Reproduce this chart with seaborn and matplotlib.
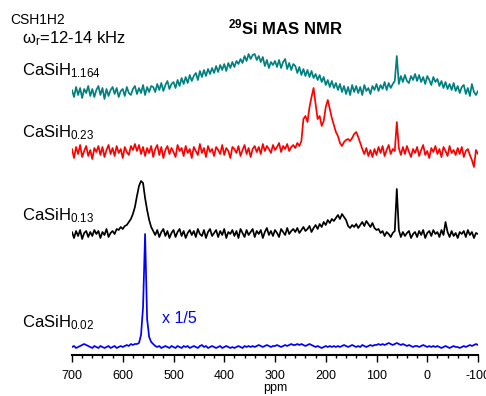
import numpy as np
import pandas as pd
import matplotlib
matplotlib.use("Agg")
import matplotlib.pyplot as plt
from matplotlib.ticker import MultipleLocator
import seaborn as sns

# Chemical shift grid (ppm), 700 down to -100 in 4 ppm steps
ppm = np.arange(700, -101, -4)

# Intensities (arbitrary units) for each sample, one row = 40 ppm
casih_1164 = [
    2, -5, 5, -3, 4, -6, 3, -1, 6, -4,
    3, -5, 2, 6, -3, 4, -7, 3, -4, 2,
    5, -2, 4, -5, 1, 3, -4, 5, -1, -3,
    3, 6, -2, 4, -1, 7, -3, 5, 0, 6,
    5, 0, 8, 2, 9, 1, 7, 11, 3, 8,
    10, 4, 12, 6, 14, 8, 15, 9, 17, 11,
    16, 19, 12, 21, 15, 22, 16, 23, 18, 24,
    19, 26, 20, 27, 22, 28, 21, 29, 24, 30,
    25, 31, 28, 33, 29, 36, 31, 38, 33, 37,
    38, 32, 36, 30, 35, 26, 32, 24, 30, 27,
    31, 25, 32, 24, 30, 33, 23, 29, 22, 28,
    26, 19, 25, 17, 23, 16, 22, 15, 21, 14,
    18, 12, 17, 10, 15, 7, 12, 5, 11, 4,
    9, 2, 8, 0, 6, -2, 5, -3, 7, 0,
    6, -1, 5, -3, 7, 1, 4, -2, 6, 2,
    8, 1, 7, 3, 10, 2, 9, 4, 8, 11,
    36, 8, 16, 10, 17, 11, 9, 16, 12, 18,
    11, 17, 10, 15, 8, 16, 12, 7, 15, 10,
    13, 6, 11, 4, 10, 3, 8, 2, 9, 1,
    6, -1, 5, 7, -2, 4, -4, 8, 0, -3,
    1,
]

casih_023 = [
    3, -6, 5, -2, 7, -5, 1, 6, -4, 2,
    -7, 4, 0, 6, -3, 5, -5, 2, 7, -2,
    4, -4, 6, -1, 3, -6, 5, 0, -3, 6,
    2, 8, 1, 7, -2, 5, -4, 4, -1, 6,
    -5, 3, 7, -3, 5, -6, 2, 6, -2, 4,
    0, -5, 7, 1, 4, -4, 6, -1, 3, -6,
    5, 1, -3, 8, -1, 4, -5, 6, 0, 3,
    -4, 5, 2, -2, 7, -3, 4, 1, -6, 5,
    3, -1, 6, -4, 2, 7, -2, 4, -5, 3,
    6, 0, 5, -2, 8, 1, 6, 3, -1, 7,
    2, 5, 9, 0, 6, 3, 8, 1, 5, 7,
    4, 9, 6, 11, 33, 36, 30, 45, 55, 64,
    48, 33, 36, 26, 31, 45, 52, 43, 34, 27,
    20, 16, 9, 6, 10, 12, 13, 11, 14, 18,
    20, 15, 9, 3, -2, 4, -4, 2, -5, 3,
    -3, 5, -1, 6, -4, 2, 7, -2, 3, 1,
    30, 4, -3, 5, -2, 6, 0, -5, 3, -1,
    5, -4, 2, 7, -3, 1, -6, 4, 0, 6,
    -2, 3, -5, 5, 1, -4, 6, -1, 2, -3,
    4, -2, 5, -5, 1, 3, -3, -8, -15, 2,
    -2,
]

casih_013 = [
    2, -4, 3, -2, 4, -5, 1, 3, -3, 2,
    -2, 4, 0, 3, -4, 2, -1, 5, -3, 1,
    3, 0, 5, 4, 7, 5, 8, 9, 12, 15,
    20, 27, 38, 48, 53, 51, 36, 24, 14, 7,
    3, -1, 4, -3, 2, 5, -2, 3, -4, 1,
    4, -3, 2, 5, -2, 3, -4, 1, 4, -1,
    3, -3, 5, 0, -2, 4, -4, 2, 5, -2,
    1, 4, -3, 3, -1, 5, -4, 2, 0, 4,
    -2, 3, -4, 5, 1, -3, 4, -1, 2, 5,
    -3, 3, 0, 4, -4, 2, 6, -1, 3, -2,
    4, 1, -3, 5, 2, -1, 6, 0, 3, 5,
    2, 6, 1, 4, 7, 3, 5, 8, 2, 6,
    9, 5, 10, 7, 12, 9, 14, 11, 15, 13,
    16, 19, 15, 20, 17, 14, 8, 6, 9, 7,
    10, 6, 9, 12, 8, 13, 10, 7, 11, 6,
    4, 5, 1, 3, -2, 2, 0, -3, 1, 3,
    45, 4, -3, 2, -2, 1, 3, -4, 0, 2,
    -3, 3, -1, 4, -4, 1, 3, -2, 4, 0,
    2, -3, 4, -1, 12, 2, -3, 3, -2, 1,
    -4, 2, 0, 3, -3, 4, -1, 2, -4, 1,
    0,
]

casih_002 = [
    0, 1, -1, 0, 1, 2, 3, 2, 1, 0,
    -1, 1, 0, -1, 1, 0, -1, 0, 1, -1,
    0, 1, -1, 0, 1, 0, 1, 2, 1, 3,
    2, 3, 3, 4, 12, 40, 113, 28, 10, 5,
    3, 1, 0, 1, -1, 0, 1, 0, -1, 1,
    0, -1, 1, 0, -1, 1, 0, 1, -1, 0,
    1, 0, -1, 1, 2, 0, 1, -1, 0, 1,
    0, -1, 0, 1, -1, 0, 1, 0, -1, 0,
    -1, 0, 1, 0, -1, 1, 0, 1, 0, 1,
    0, 1, 2, 1, 0, 1, 2, 1, 0, 1,
    1, 2, 1, 0, 1, 2, 1, 2, 3, 2,
    2, 3, 2, 3, 2, 1, 2, 3, 2, 1,
    0, 1, 0, -1, 0, 1, 0, 1, 0, 1,
    0, 1, 0, 1, 2, 1, 0, 1, 2, 1,
    0, 1, 0, 2, 1, 0, 1, 2, 1, 2,
    2, 3, 2, 3, 2, 3, 4, 3, 2, 3,
    4, 3, 2, 3, 2, 1, 2, 1, 0, 1,
    1, 0, 1, 2, 1, 0, 1, 0, 1, 0,
    1, 0, -1, 0, 1, 0, -1, 0, 1, 0,
    0, -1, 0, 1, 0, 1, 2, 1, 2, 3,
    2,
]

samples = ["1.164", "0.23", "0.13", "0.02"]
spectra = [casih_1164, casih_023, casih_013, casih_002]
offsets = [263, 203, 121, 8]
colors = ["#008080", "#ff0000", "#000000", "#0000ff"]
tick_labels = ["700", "600", "500", "400", "300", "200", "100", "0", "-100"]

frames = []
for name, spec, off in zip(samples, spectra, offsets):
    frames.append(pd.DataFrame({"ppm": ppm,
                                "signal": np.asarray(spec, float) + off,
                                "sample": name}))
df = pd.concat(frames, ignore_index=True)

sns.set_style("ticks")
plt.rcParams["font.family"] = ["Liberation Sans", "DejaVu Sans"]
plt.rcParams["mathtext.fontset"] = "custom"
plt.rcParams["mathtext.rm"] = "Liberation Sans"
plt.rcParams["mathtext.it"] = "Liberation Sans:italic"
plt.rcParams["mathtext.bf"] = "Liberation Sans:bold"
plt.rcParams["text.color"] = "black"
plt.rcParams["axes.labelcolor"] = "black"
plt.rcParams["xtick.color"] = "black"
plt.rcParams["axes.edgecolor"] = "black"

W, H = 486, 396
fig = plt.figure(figsize=(W / 100, H / 100), dpi=100)
ax = fig.add_axes([72 / W, 1 - 355 / H, 406 / W, 335 / H])

sns.lineplot(data=df, x="ppm", y="signal", hue="sample", units="sample",
             estimator=None, palette=dict(zip(samples, colors)),
             hue_order=samples, legend=False, linewidth=1.25, ax=ax)

ax.set_xlim(700, -100)
ax.set_ylim(0, 335)
ax.xaxis.set_major_locator(MultipleLocator(100))
ax.xaxis.set_minor_locator(MultipleLocator(20))
ax.set_xticks(np.arange(700, -101, -100))
ax.set_xticklabels(tick_labels)
ax.tick_params(axis="x", which="major", direction="out", length=5, width=1,
               labelsize=9, pad=6, color="black", labelcolor="black")
ax.tick_params(axis="x", which="minor", direction="out", length=2.5, width=1,
               color="black")
ax.set_yticks([])
for side in ("left", "top", "right"):
    ax.spines[side].set_visible(False)
ax.spines["bottom"].set_linewidth(1.5)
ax.spines["bottom"].set_color("black")
ax.set_xlabel("ppm", fontsize=9, labelpad=0, color="black")
ax.set_ylabel("")


def fig_text(x, y, s, **kw):
    kw.setdefault("color", "black")
    fig.text(x / W, 1 - y / H, s, va="baseline", **kw)


fig_text(10, 24, "CSH1H2", fontsize=10)
fig_text(22, 43, r"ω$_\mathregular{r}$=12-14 kHz", fontsize=12)
fig_text(285, 34, r"$^{\mathbf{29}}$Si MAS NMR", fontsize=12,
         fontweight="bold", ha="center")

label_y = [75, 137, 220, 327]
for name, y in zip(samples, label_y):
    fig_text(22, y, "CaSiH$_\\mathregular{" + name + "}$", fontsize=12)

fig_text(162, 323, "x 1/5", fontsize=11.5, color="#0000ff")

fig.savefig("out.png", dpi=100)
